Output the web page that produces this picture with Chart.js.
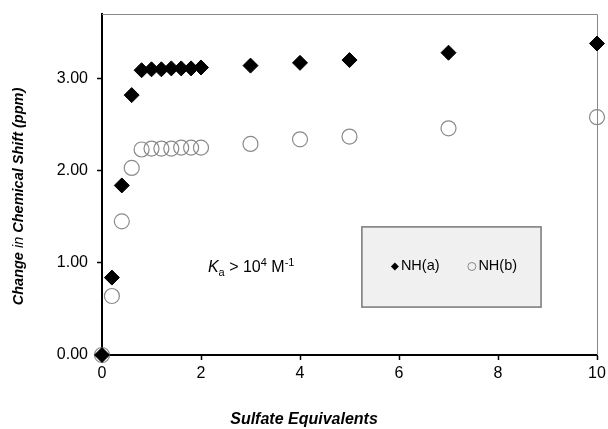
<!DOCTYPE html>
<html>
<head>
<meta charset="utf-8">
<script src="https://cdn.jsdelivr.net/npm/chart.js@4"></script>
<style>
  body { margin: 0; background: #fff; }
  #wrap { position: relative; width: 608px; height: 429px; }
</style>
</head>
<body>
<div id="wrap"><canvas id="chart"></canvas></div>
<script>
// Data
const equivalents = [0, 0.2, 0.4, 0.6, 0.8, 1.0, 1.2, 1.4, 1.6, 1.8, 2.0, 3, 4, 5, 7, 10];
const nhA = [0, 0.84, 1.84, 2.82, 3.09, 3.10, 3.10, 3.11, 3.11, 3.11, 3.12, 3.14, 3.17, 3.20, 3.28, 3.38];
const nhB = [0, 0.64, 1.45, 2.03, 2.23, 2.24, 2.24, 2.24, 2.25, 2.25, 2.25, 2.29, 2.34, 2.37, 2.46, 2.58];
const seriesNames = ["NH(a)", "NH(b)"];
const xTicks = [0, 2, 4, 6, 8, 10];
const yTicks = [0, 1, 2, 3];

const FONT = "'Liberation Sans', Arial, sans-serif";

function toPoints(xs, ys) {
  return xs.map((x, i) => ({ x: x, y: ys[i] }));
}

// draw mixed-font text left to right from x, returns end x
function drawRuns(ctx, runs, x, y) {
  runs.forEach(r => {
    ctx.font = r.font;
    ctx.fillText(r.text, x, y + (r.dy || 0));
    x += ctx.measureText(r.text).width;
  });
  return x;
}

function runsWidth(ctx, runs) {
  let w = 0;
  runs.forEach(r => { ctx.font = r.font; w += ctx.measureText(r.text).width; });
  return w;
}

// top/right frame, legend box, annotation, axis titles
const extras = {
  id: "extras",
  beforeDatasetsDraw(chart) {
    const { ctx, chartArea: a } = chart;
    const xs = chart.scales.x, ys = chart.scales.y;
    ctx.save();
    ctx.strokeStyle = "#888";
    ctx.lineWidth = 1;
    ctx.beginPath();
    ctx.moveTo(a.left, a.top + 0.5);
    ctx.lineTo(a.right + 0.5, a.top + 0.5);
    ctx.lineTo(a.right + 0.5, a.bottom);
    ctx.stroke();

    // legend box
    const l = xs.getPixelForValue(5.25), r = xs.getPixelForValue(8.87);
    const t = ys.getPixelForValue(1.39), b = ys.getPixelForValue(0.52);
    ctx.fillStyle = "#f0f0f0";
    ctx.fillRect(l, t, r - l, b - t);
    ctx.strokeStyle = "#777";
    ctx.lineWidth = 1.5;
    ctx.strokeRect(l, t, r - l, b - t);

    const cy = (t + b) / 2 - 0.5;
    ctx.font = "14.5px " + FONT;
    ctx.textBaseline = "middle";
    ctx.fillStyle = "#000";
    let mx = l + 33;
    ctx.beginPath();
    ctx.moveTo(mx, cy - 4);
    ctx.lineTo(mx + 4, cy);
    ctx.lineTo(mx, cy + 4);
    ctx.lineTo(mx - 4, cy);
    ctx.closePath();
    ctx.fill();
    ctx.fillText(seriesNames[0], mx + 6, cy);
    mx = l + 110;
    ctx.beginPath();
    ctx.arc(mx, cy, 4, 0, Math.PI * 2);
    ctx.strokeStyle = "#888";
    ctx.lineWidth = 1;
    ctx.stroke();
    ctx.fillText(seriesNames[1], mx + 6.5, cy);

    // Ka annotation
    ctx.textBaseline = "alphabetic";
    const big = "16px " + FONT, small = "11px " + FONT;
    drawRuns(ctx, [
      { font: "italic " + big, text: "K" },
      { font: small, text: "a", dy: 4 },
      { font: big, text: " > 10" },
      { font: small, text: "4", dy: -6 },
      { font: big, text: " M" },
      { font: small, text: "-1", dy: -6 }
    ], xs.getPixelForValue(2.14), ys.getPixelForValue(0.9));

    // x axis title
    ctx.textBaseline = "middle";
    const xt = [{ font: "bold italic 16px " + FONT, text: "Sulfate Equivalents" }];
    drawRuns(ctx, xt, 304 - runsWidth(ctx, xt) / 2, 420);

    // y axis title, with a lighter "in"
    const yt = [
      { font: "bold italic 14.5px " + FONT, text: "Change " },
      { font: "italic 14.5px " + FONT, text: "in" },
      { font: "bold italic 14.5px " + FONT, text: " Chemical Shift (ppm)" }
    ];
    ctx.translate(19, 196.5);
    ctx.rotate(-Math.PI / 2);
    drawRuns(ctx, yt, -runsWidth(ctx, yt) / 2, 0);
    ctx.restore();
  }
};

const ctx = document.getElementById("chart").getContext("2d");
new Chart(ctx, {
  type: "scatter",
  data: {
    datasets: [
      {
        label: seriesNames[0],
        data: toPoints(equivalents, nhA),
        pointStyle: "rectRot",
        pointRadius: 7.5,
        pointHoverRadius: 7.5,
        backgroundColor: "#000",
        borderColor: "#000",
        borderWidth: 1,
        clip: false
      },
      {
        label: seriesNames[1],
        data: toPoints(equivalents, nhB),
        pointStyle: "circle",
        pointRadius: 7.5,
        pointHoverRadius: 7.5,
        backgroundColor: "rgba(0,0,0,0)",
        borderColor: "#8a8a8a",
        borderWidth: 1.2,
        clip: false
      }
    ]
  },
  options: {
    responsive: true,
    maintainAspectRatio: false,
    animation: false,
    events: [],
    layout: { padding: { top: 14, right: 11, left: 0, bottom: 0 } },
    plugins: {
      legend: { display: false },
      tooltip: { enabled: false }
    },
    scales: {
      x: {
        type: "linear",
        min: 0,
        max: 10,
        afterBuildTicks: s => { s.ticks = xTicks.map(v => ({ value: v })); },
        afterFit: s => {
          s.height = 74;
          s.paddingLeft = 0;
          s.paddingRight = 0;
        },
        ticks: {
          color: "#000",
          font: { family: FONT, size: 16 },
          padding: 4,
          maxRotation: 0
        },
        grid: { drawOnChartArea: false, drawTicks: true, tickLength: 5, color: "#000", tickWidth: 1.5 },
        border: { color: "#000", width: 2 }
      },
      y: {
        type: "linear",
        min: 0,
        max: 3.7,
        afterBuildTicks: s => { s.ticks = yTicks.map(v => ({ value: v })); },
        afterFit: s => {
          s.width = 102;
          s.paddingTop = 0;
          s.paddingBottom = 0;
        },
        ticks: {
          color: "#000",
          font: { family: FONT, size: 16 },
          padding: 9,
          callback: v => v.toFixed(2)
        },
        grid: { drawOnChartArea: false, drawTicks: true, tickLength: 5, color: "#000", tickWidth: 1.5 },
        border: { color: "#000", width: 2 }
      }
    }
  },
  plugins: [extras]
});
</script>
</body>
</html>
